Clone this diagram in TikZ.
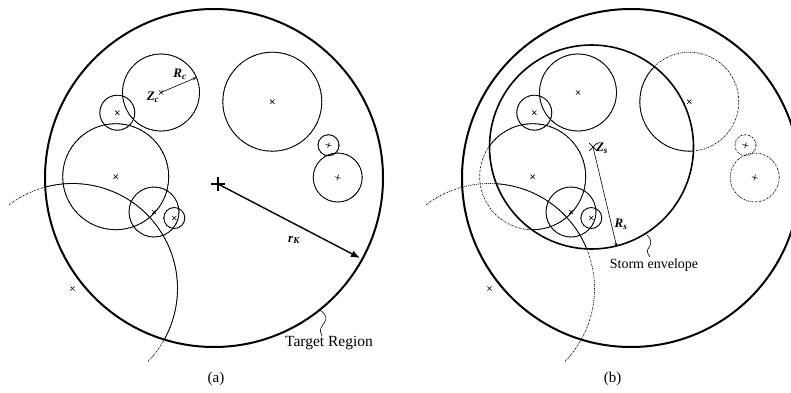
\documentclass[tikz,border=0pt]{standalone}
\usepackage{fontspec}
\setmainfont{Liberation Serif}
\usetikzlibrary{shapes.misc,arrows.meta}
\newcommand\drawcircs[1]{%
  \draw[#1] (161,299.5) circle (38.5);
  \draw[#1] (117.3,279.3) circle (17.5);
  \draw[#1] (115.7,215.3) circle (53);
  \draw[#1] (154,180) circle (25);
  \draw[#1] (174.3,174) circle (10.5);
  \draw[#1] (272.3,290.3) circle (49.5);
  \draw[#1] (328.5,246.8) circle (10.5);
  \draw[#1] (337.7,214.5) circle (24.5);
  \draw[#1] (72.5,103.5) ++(127:105) arc[start angle=127, end angle=-44, radius=105];
}
\newcommand\drawmarks[1]{%
  \node[xm] (#1m1) at (161,299.5) {};
  \node[xm] (#1m2) at (117.3,279.3) {};
  \node[xm] (#1m3) at (115.7,215.3) {};
  \node[xm] (#1m4) at (154,180) {};
  \node[xm] (#1m5) at (174.3,174) {};
  \node[xm] (#1m6) at (272.3,290.3) {};
  \node[pm] (#1m7) at (328.5,246.8) {};
  \node[pm] (#1m8) at (337.7,214.5) {};
  \node[xm] (#1m9) at (72.5,103.5) {};
}
\begin{document}
\begin{tikzpicture}[x=1pt,y=1pt,
  thinc/.style={line width=0.8pt},
  dotc/.style={line width=0.7pt, dash pattern=on 1.5pt off 1pt on 0.5pt off 1pt},
  bigc/.style={line width=2pt},
  env/.style={line width=1.6pt},
  xm/.style={draw, cross out, minimum size=3.6pt, inner sep=0pt, line width=0.6pt},
  pm/.style={xm, rotate=30},
  lab/.style={font=\bfseries\itshape\fontsize{13}{15}\selectfont, inner sep=0pt},
  txt/.style={font=\fontsize{14}{16}\selectfont, inner sep=0pt},
  lead/.style={line width=0.6pt}
]
\clip (0,0) rectangle (791,392);
% ---------------- panel (a)
\coordinate (Ta) at (214,214);
\drawcircs{dotc}
\begin{scope}
  \clip (Ta) circle (169);
  \drawcircs{thinc}
\end{scope}
\draw[bigc] (Ta) circle (169);
\drawmarks{a}
\draw[line width=0.6pt, -{Stealth[length=4pt,width=3pt]}] (am1.center) -- ++(23:38.5);
\node[lab] (Rc) at (180,318) {R\textsubscript{c}};
\node[lab] (Zc) at (153,295) {Z\textsubscript{c}};
\node[draw, cross out, rotate=45, minimum size=7.5pt, inner sep=0pt, line width=1.8pt] (pa) at (218,208) {};
\draw[line width=1.4pt, -{Latex[length=9pt,width=7pt]}] (pa.center) -- (360,134);
\node[lab] (rK) at (294,152) {r\textsubscript{K}};
\draw[lead] (320,82) .. controls (330,75) and (325,70) .. (322,66) .. controls (319,62) and (321,59) .. (322,56);
\node[txt, font=\fontsize{15.5}{18}\selectfont] (tr) at (329,49) {Target Region};
\node[txt, font=\fontsize{15}{18}\selectfont] (ca) at (216,13) {(a)};
% ---------------- panel (b)
\begin{scope}[xshift=417pt]
  \coordinate (Tb) at (214,214);
  \coordinate (Eb) at (174.5,245);
  \drawcircs{dotc}
  \begin{scope}
    \clip (Eb) circle (102);
    \drawcircs{thinc}
  \end{scope}
  \draw[bigc] (Tb) circle (169);
  \draw[env] (Eb) circle (102);
  \drawmarks{b}
  \node[draw, cross out, minimum size=7pt, inner sep=0pt, line width=0.7pt] (zs) at (176,245) {};
  \draw[line width=0.6pt, -{Stealth[length=4pt,width=3pt]}] (zs.center) -- (199.7,145.3);
  \node[lab] (Zs) at (185,244) {Z\textsubscript{s}};
  \node[lab] (Rs) at (204,168) {R\textsubscript{s}};
  \draw[lead] (229.7,157) .. controls (236,152) and (234,147) .. (231,143) .. controls (229,140) and (232,137) .. (233,135);
  \node[txt] (se) at (237,127) {Storm envelope};
\end{scope}
\node[txt, font=\fontsize{15}{18}\selectfont] (cb) at (612.5,13) {(b)};
\end{tikzpicture}
\end{document}
